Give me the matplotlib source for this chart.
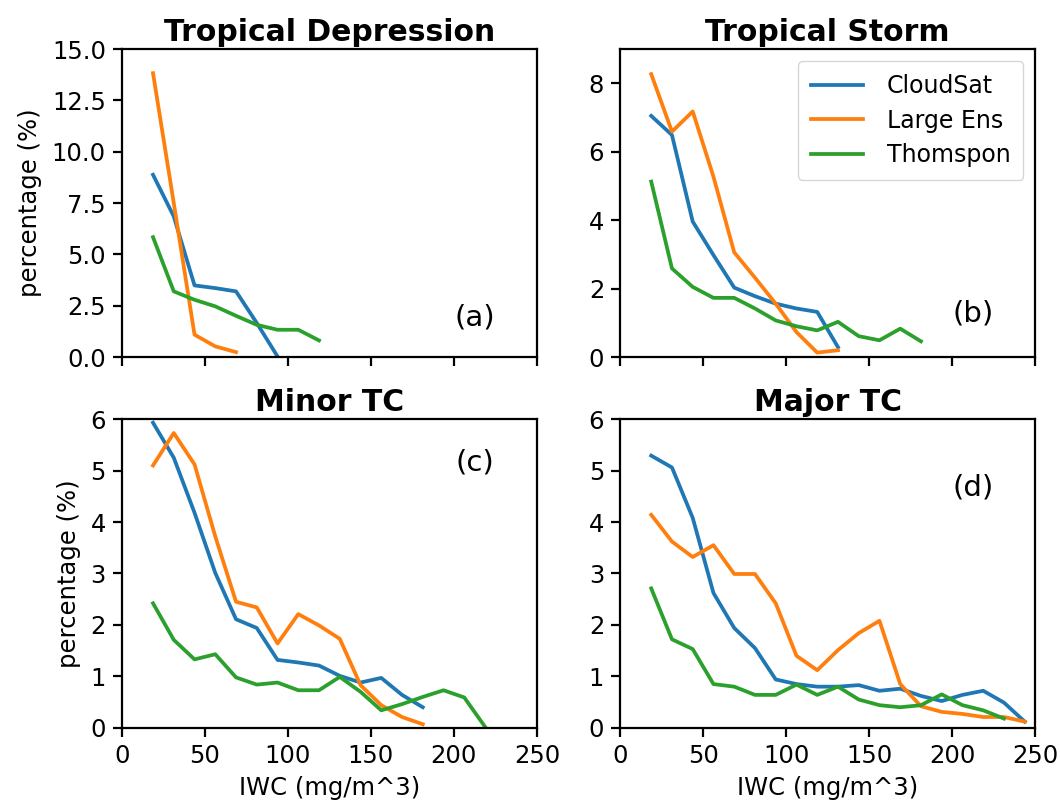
import numpy as np
import matplotlib
matplotlib.use("Agg")
import matplotlib.pyplot as plt

# bin centres of the IWC histogram (mg/m^3)
iwc_bins = [18.75, 31.25, 43.75, 56.25, 68.75, 81.25, 93.75, 106.25, 118.75,
            131.25, 143.75, 156.25, 168.75, 181.25, 193.75, 206.25, 218.75,
            231.25, 243.75]

# (a) Tropical Depression
td_cloudsat = [8.88, 6.85, 3.49, 3.36, 3.20, 1.66, 0.03]
td_large_ens = [13.83, 7.5, 1.09, 0.52, 0.24]
td_thompson = [5.84, 3.20, 2.79, 2.47, 2.01, 1.57, 1.33, 1.33, 0.81]

# (b) Tropical Storm
ts_cloudsat = [7.05, 6.49, 3.96, 2.98, 2.03, 1.78, 1.56, 1.42, 1.32, 0.29]
ts_large_ens = [8.27, 6.59, 7.18, 5.27, 3.06, 2.32, 1.56, 0.73, 0.13, 0.20]
ts_thompson = [5.13, 2.59, 2.05, 1.73, 1.73, 1.42, 1.07, 0.90, 0.78, 1.03,
               0.61, 0.49, 0.83, 0.46]

# (c) Minor TC
minor_cloudsat = [5.93, 5.25, 4.18, 3.01, 2.11, 1.94, 1.32, 1.27, 1.21, 1.01,
                  0.88, 0.97, 0.64, 0.40]
minor_large_ens = [5.10, 5.73, 5.12, 3.72, 2.45, 2.34, 1.64, 2.21, 1.99, 1.73,
                   0.83, 0.44, 0.21, 0.07]
minor_thompson = [2.42, 1.71, 1.33, 1.43, 0.98, 0.84, 0.88, 0.73, 0.73, 0.99,
                  0.70, 0.34, 0.46, 0.60, 0.73, 0.59, 0.02]

# (d) Major TC
major_cloudsat = [5.29, 5.06, 4.08, 2.62, 1.94, 1.55, 0.94, 0.85, 0.80, 0.80,
                  0.83, 0.72, 0.76, 0.62, 0.52, 0.64, 0.72, 0.49, 0.12]
major_large_ens = [4.14, 3.62, 3.32, 3.55, 2.99, 2.99, 2.42, 1.40, 1.12, 1.51,
                   1.84, 2.08, 0.85, 0.42, 0.31, 0.27, 0.21, 0.21, 0.12]
major_thompson = [2.71, 1.72, 1.53, 0.85, 0.80, 0.64, 0.64, 0.84, 0.64, 0.80,
                  0.55, 0.44, 0.40, 0.44, 0.65, 0.44, 0.34, 0.18]

series_names = ["CloudSat", "Large Ens", "Thomspon"]
colors = ["#1f77b4", "#ff7f0e", "#2ca02c"]

panels = [
    ("Tropical Depression", "(a)", [td_cloudsat, td_large_ens, td_thompson]),
    ("Tropical Storm", "(b)", [ts_cloudsat, ts_large_ens, ts_thompson]),
    ("Minor TC", "(c)", [minor_cloudsat, minor_large_ens, minor_thompson]),
    ("Major TC", "(d)", [major_cloudsat, major_large_ens, major_thompson]),
]

y_limits = [(0, 15), (0, 9), (0, 6), (0, 6)]
y_ticks = [np.arange(0, 15.1, 2.5), [0, 2, 4, 6, 8], range(7), range(7)]
label_pos = [(0.85, 0.13), (0.85, 0.143), (0.85, 0.86), (0.85, 0.78)]

# axes boxes in figure fractions [left, bottom, width, height]
boxes = [
    [0.115, 0.557, 0.3915, 0.382],
    [0.585, 0.557, 0.3915, 0.382],
    [0.115, 0.097, 0.3915, 0.383],
    [0.585, 0.097, 0.3915, 0.383],
]

fig = plt.figure(figsize=(10.6, 8.06), dpi=100)

for i, (title, tag, data) in enumerate(panels):
    ax = fig.add_axes(boxes[i])
    for name, color, values in zip(series_names, colors, data):
        ax.plot(iwc_bins[:len(values)], values, color=color, linewidth=2.7,
                label=name)

    ax.set_xlim(0, 250)
    ax.set_ylim(*y_limits[i])
    ax.set_xticks([0, 50, 100, 150, 200, 250])
    ax.set_yticks(y_ticks[i])
    ax.set_title(title, fontsize=21.5, fontweight="bold", pad=6)
    ax.text(label_pos[i][0], label_pos[i][1], tag, transform=ax.transAxes,
            fontsize=21, ha="center", va="center")

    ax.tick_params(labelsize=17.5, width=1.6, length=6.5, pad=5)
    for spine in ax.spines.values():
        spine.set_linewidth(1.6)

    if i < 2:
        ax.tick_params(labelbottom=False)
    else:
        ax.set_xlabel("IWC (mg/m^3)", fontsize=17.5, labelpad=6)
    if i % 2 == 0:
        ax.set_ylabel("percentage (%)", fontsize=17.5, labelpad=7)
    if i == 1:
        ax.legend(loc="upper right", fontsize=17, handlelength=2.2,
                  borderpad=0.55, labelspacing=0.45, handletextpad=1.0)

plt.savefig("out.png", dpi=100)
plt.close()
